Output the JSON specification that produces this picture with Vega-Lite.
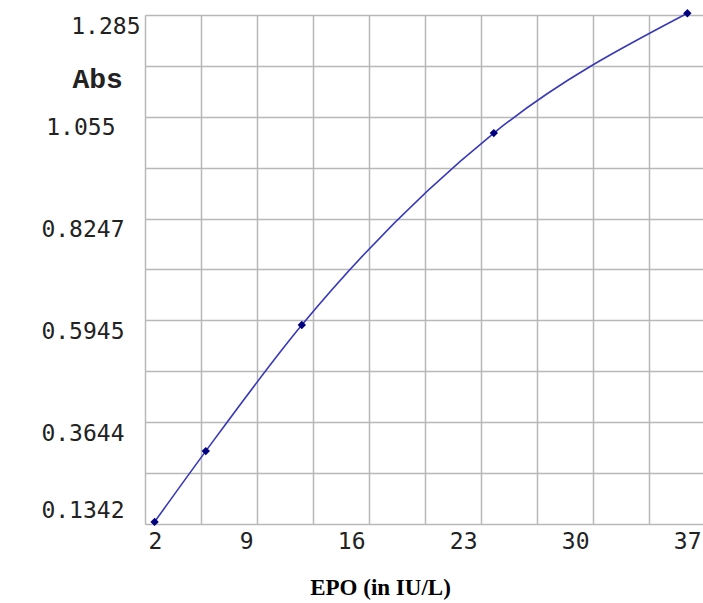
{
  "$schema": "https://vega.github.io/schema/vega-lite/v6.json",
  "autosize": {"type": "none"},
  "padding": {"left": 145, "top": 15, "right": 0, "bottom": 79},
  "width": 560,
  "height": 509,
  "background": "white",
  "config": {"view": {"stroke": null}},
  "data": {
    "values": [
      {"epo": 2.6, "abs": 0.139},
      {"epo": 5.8, "abs": 0.299},
      {"epo": 11.8, "abs": 0.584},
      {"epo": 23.8, "abs": 1.018},
      {"epo": 35.9, "abs": 1.289}
    ]
  },
  "encoding": {
    "x": {
      "field": "epo",
      "type": "quantitative",
      "scale": {"domain": [2, 37], "nice": false, "zero": false},
      "axis": {
        "values": [2, 5.5, 9, 12.5, 16, 19.5, 23, 26.5, 30, 33.5, 37],
        "labelExpr": "(datum.value - 2) % 7 == 0 ? format(datum.value, 'd') : ''",
        "grid": true,
        "gridColor": "#b8b8b8",
        "gridWidth": 1.5,
        "gridOpacity": 1,
        "domain": false,
        "ticks": false,
        "labelAlign": {"condition": {"test": "datum.value < 3", "value": "left"}, "value": "right"},
        "labelOffset": {"condition": {"test": "datum.value < 3", "value": 3}, "value": -4},
        "labelFlush": false,
        "labelOverlap": false,
        "labelBound": false,
        "labelBaseline": "top",
        "labelPadding": 6,
        "labelFont": "DejaVu Sans Mono",
        "labelFontSize": 23,
        "labelColor": "#222222",
        "title": "EPO (in IU/L)",
        "titleFont": "Liberation Serif",
        "titleFontWeight": "bold",
        "titleFontSize": 23,
        "titleColor": "#000000",
        "titleX": 235,
        "titleY": 70,
        "titleAlign": "center",
        "titleBaseline": "alphabetic"
      }
    },
    "y": {
      "field": "abs",
      "type": "quantitative",
      "scale": {"domain": [0.1342, 1.285], "nice": false, "zero": false},
      "axis": {
        "values": [0.1342, 0.2493, 0.3644, 0.47945, 0.5945, 0.7096, 0.8247, 0.93985, 1.055, 1.17, 1.285],
        "format": ".4r",
        "labelExpr": "indexof(['0.1342','0.3644','0.5945','0.8247','1.055','1.285'], datum.label) >= 0 ? datum.label : ''",
        "grid": true,
        "gridColor": "#b8b8b8",
        "gridWidth": 1.5,
        "gridOpacity": 1,
        "domain": false,
        "ticks": false,
        "labelAlign": "right",
        "labelBaseline": "middle",
        "labelPadding": {"condition": [{"test": "datum.value > 1.28", "value": 5}, {"test": "datum.value > 1.05 && datum.value < 1.06", "value": 30}], "value": 21},
        "labelOffset": {"condition": {"test": "datum.value < 0.14", "value": -14}, "value": 11},
        "labelOverlap": false,
        "labelBound": false,
        "labelFlush": false,
        "labelFont": "DejaVu Sans Mono",
        "labelFontSize": 23,
        "labelColor": "#222222",
        "title": "Abs",
        "titleAngle": 0,
        "titleX": -73,
        "titleY": 72,
        "titleAlign": "left",
        "titleBaseline": "alphabetic",
        "titleFont": "Liberation Mono",
        "titleFontWeight": "bold",
        "titleFontSize": 28,
        "titleColor": "#222222"
      }
    }
  },
  "layer": [
    {
      "mark": {"type": "line", "interpolate": "monotone", "color": "#3838b8", "strokeWidth": 1.6}
    },
    {
      "mark": {"type": "point", "shape": "diamond", "filled": true, "color": "#000080", "size": 70, "opacity": 1}
    }
  ]
}
